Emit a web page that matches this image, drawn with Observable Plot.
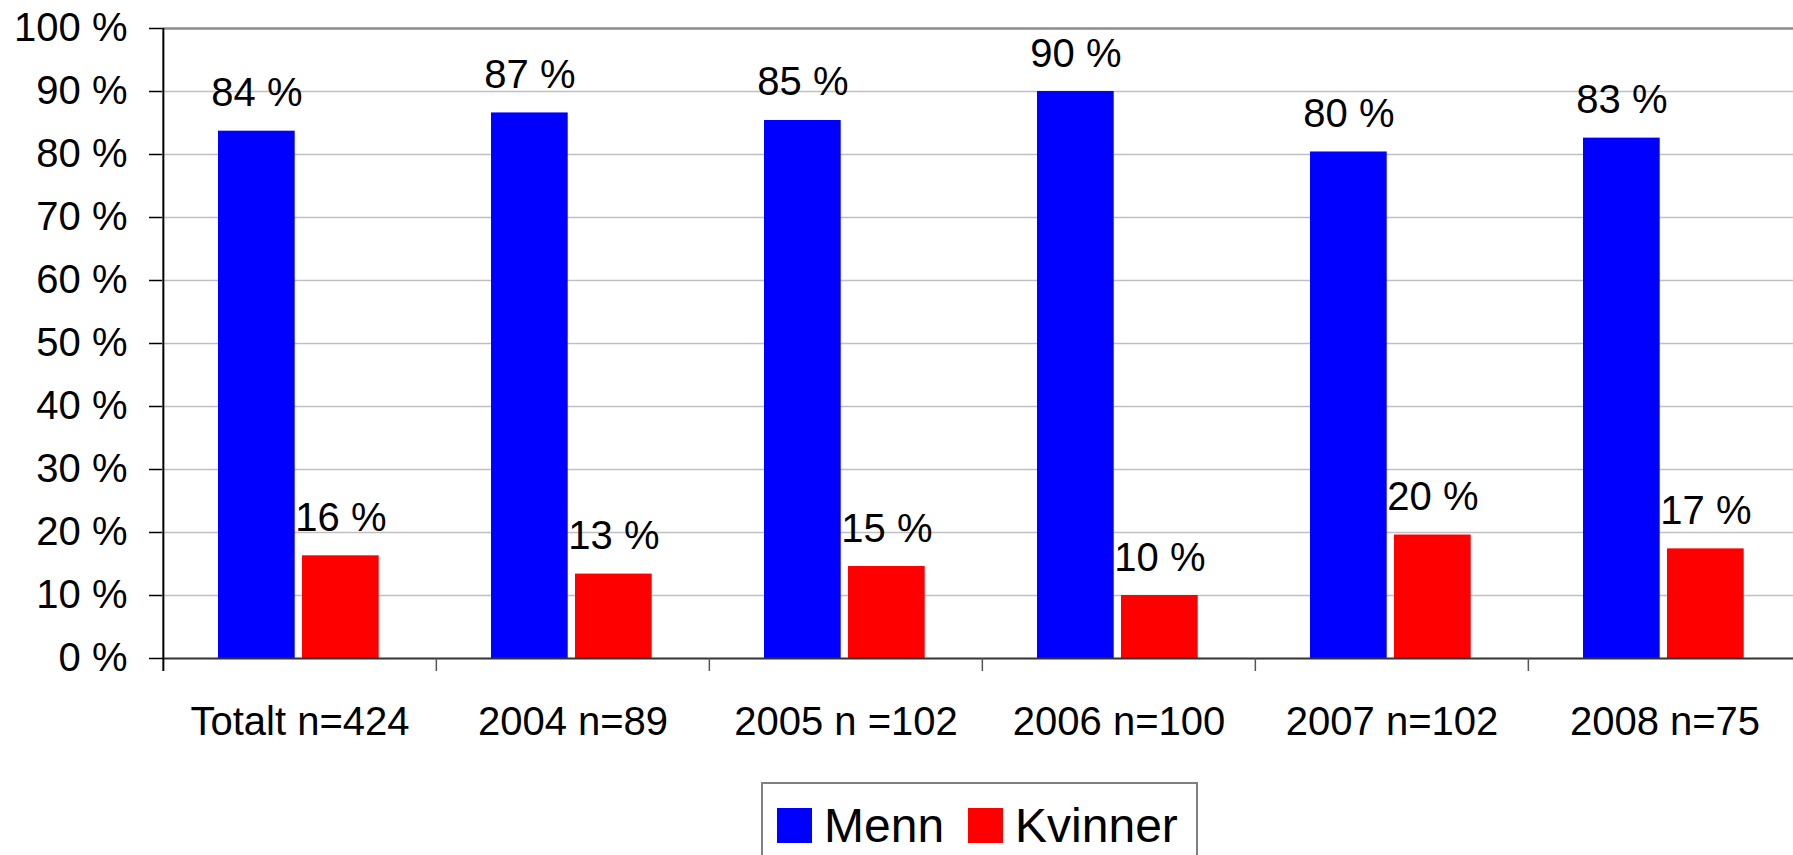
<!DOCTYPE html>
<html>
<head>
<meta charset="utf-8">
<script src="https://cdn.jsdelivr.net/npm/d3@7"></script>
<script src="https://cdn.jsdelivr.net/npm/@observablehq/plot@0.6"></script>
<style>
  html, body { margin: 0; padding: 0; background: white; overflow: hidden; }
  body { width: 1793px; height: 855px; position: relative; font-family: "Liberation Sans", Arial, sans-serif; }
  #chart svg { display: block; }
  #legend {
    position: absolute; left: 761px; top: 782px; width: 437px; height: 100px;
    box-sizing: border-box; border: 2px solid #7f7f7f; background: white;
    display: flex; align-items: flex-start; padding: 24px 0 0 14px;
    font-family: "Liberation Sans", Arial, sans-serif; font-size: 48px; color: #000;
  }
  .item { display: flex; align-items: center; height: 35px; margin-right: 24px; }
  .sw { width: 35px; height: 35px; margin-right: 12px; flex: none; }
  .lab { line-height: 35px; }
</style>
</head>
<body>
<div id="chart"></div>
<div id="legend"></div>
<script>
const categories = ["Totalt n=424", "2004 n=89", "2005 n =102", "2006 n=100", "2007 n=102", "2008 n=75"];
const menn = [83.7, 86.6, 85.4, 90.0, 80.4, 82.6];
const kvinner = [16.3, 13.4, 14.6, 10.0, 19.6, 17.4];
const seriesNames = ["Menn", "Kvinner"];
const seriesColors = ["#0000ff", "#ff0000"];
const yTicks = [0, 10, 20, 30, 40, 50, 60, 70, 80, 90, 100];

const rows = categories.map((c, i) => ({category: c, menn: menn[i], kvinner: kvinner[i]}));
const fmt = v => `${Math.round(v)} %`;
const fontStack = "Liberation Sans, Arial, sans-serif";

const W = 1793, H = 782, plotLeft = 162, bandW = 273.3, plotTop = 28, zeroY = 658;

const chart = Plot.plot({
  width: W,
  height: H,
  marginLeft: plotLeft,
  marginRight: 0,
  marginTop: plotTop,
  marginBottom: H - zeroY,
  style: {fontFamily: fontStack, fontSize: "40px", background: "white", overflow: "hidden"},
  x: {domain: categories, range: [plotLeft, plotLeft + bandW * categories.length], padding: 0, axis: null, label: null},
  y: {domain: [0, 100], range: [zeroY, plotTop], axis: null, label: null},
  marks: [
    Plot.gridY(yTicks.filter(d => d > 0 && d < 100), {stroke: "#c0c0c0", strokeOpacity: 1, strokeWidth: 1.5}),
    Plot.ruleY([100], {stroke: "#8c8c8c", strokeWidth: 2.5}),
    Plot.barY(rows, {x: "category", y: "menn", fill: seriesColors[0], insetLeft: 55, insetRight: bandW - 132}),
    Plot.barY(rows, {x: "category", y: "kvinner", fill: seriesColors[1], insetLeft: 139, insetRight: bandW - 216}),
    Plot.text(rows, {x: "category", y: "menn", text: d => fmt(d.menn), dx: 93.5 - bandW / 2, dy: -25, lineAnchor: "bottom", fontSize: 40, fill: "#000"}),
    Plot.text(rows, {x: "category", y: "kvinner", text: d => fmt(d.kvinner), dx: 177.5 - bandW / 2, dy: -25, lineAnchor: "bottom", fontSize: 40, fill: "#000"}),
    Plot.ruleY([0], {stroke: "#333", strokeWidth: 2}),
    Plot.ruleX(categories.slice(1), {y1: 0, y2: 0, dx: -bandW / 2, insetBottom: -13, stroke: "#555", strokeWidth: 1.5}),
    Plot.ruleX(categories.slice(0, 1), {y1: 100, y2: 0, dx: -bandW / 2, insetBottom: -13, stroke: "#000", strokeWidth: 2}),
    Plot.axisY(yTicks, {anchor: "left", label: null, tickSize: 13, tickPadding: 22, tickFormat: d => `${d} %`, fontSize: 40, stroke: "#000", strokeWidth: 1.5, fill: "#000"}),
    Plot.axisX(categories, {anchor: "bottom", label: null, tickSize: 0, tickPadding: 48, fontSize: 40, fill: "#000"})
  ]
});
document.getElementById("chart").appendChild(chart);

const legend = document.getElementById("legend");
seriesNames.forEach((name, i) => {
  const item = document.createElement("div");
  item.className = "item";
  const sw = document.createElement("span");
  sw.className = "sw";
  sw.style.background = seriesColors[i];
  const lab = document.createElement("span");
  lab.className = "lab";
  lab.textContent = name;
  item.appendChild(sw);
  item.appendChild(lab);
  legend.appendChild(item);
});
</script>
</body>
</html>
